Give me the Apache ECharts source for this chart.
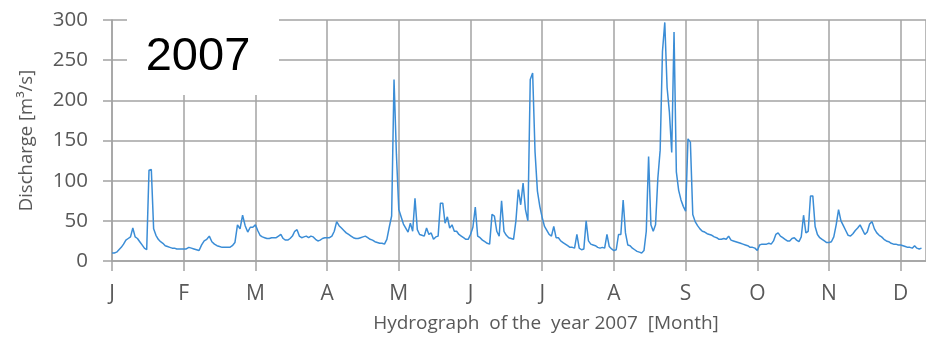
<!DOCTYPE html>
<html>
<head>
<meta charset="utf-8">
<title>Hydrograph 2007</title>
<script src="https://cdn.jsdelivr.net/npm/echarts@6/dist/echarts.min.js"></script>
<style>
  html, body { margin: 0; padding: 0; background: #ffffff; }
  #chart { width: 926px; height: 338px; }
</style>
</head>
<body>
<div id="chart"></div>
<script>
// Month tick labels and month lengths for 2007
const monthLabels = ['J', 'F', 'M', 'A', 'M', 'J', 'J', 'A', 'S', 'O', 'N', 'D'];
const daysInMonth = [31, 28, 31, 30, 31, 30, 31, 31, 30, 31, 30, 31];

// Daily discharge [m³/s], one array per month
const jan = [10, 10, 11, 14, 17, 21, 26, 28, 30, 41, 30, 28, 24, 20, 16, 14, 113, 114, 40, 32, 27, 24, 22, 19, 18, 17, 16, 16, 15, 15, 15];
const feb = [15, 15, 17, 16, 15, 14, 13, 20, 25, 27, 31, 24, 21, 19, 18, 17, 17, 17, 17, 19, 23, 45, 40, 57, 44, 36, 42, 42];
const mar = [45, 38, 32, 30, 29, 28, 28, 29, 29, 29, 31, 33, 28, 26, 26, 28, 31, 37, 39, 31, 29, 30, 31, 29, 31, 30, 27, 25, 26, 28, 29];
const apr = [29, 29, 31, 37, 49, 44, 41, 38, 35, 33, 31, 29, 28, 28, 29, 30, 31, 29, 27, 26, 24, 23, 22, 22, 21, 27, 42, 56, 226, 133];
const may = [64, 55, 46, 41, 36, 47, 37, 78, 39, 33, 32, 31, 41, 33, 35, 27, 30, 31, 72, 72, 47, 55, 41, 45, 37, 37, 33, 31, 29, 27, 27];
const jun = [33, 42, 67, 31, 29, 26, 24, 22, 21, 58, 56, 37, 31, 75, 37, 32, 29, 28, 27, 50, 89, 70, 97, 64, 50, 226, 234, 136, 87, 68];
const jul = [54, 43, 38, 33, 31, 43, 29, 29, 25, 23, 21, 19, 17, 17, 16, 33, 16, 14, 15, 50, 25, 21, 20, 19, 17, 16, 17, 16, 33, 18, 15];
const aug = [13, 14, 33, 33, 76, 35, 20, 19, 16, 14, 12, 11, 10, 13, 37, 130, 45, 37, 45, 103, 138, 261, 297, 216, 185, 135, 285, 111, 88, 76, 68];
const sep = [62, 152, 148, 58, 49, 44, 40, 37, 36, 34, 33, 32, 30, 29, 27, 27, 28, 27, 31, 26, 25, 24, 23, 22, 21, 20, 19, 17, 17, 16];
const oct = [13, 20, 21, 21, 21, 22, 21, 25, 33, 35, 31, 29, 27, 25, 25, 28, 29, 26, 24, 30, 57, 35, 37, 81, 81, 43, 33, 29, 27, 25, 23];
const nov = [23, 24, 30, 45, 64, 50, 44, 38, 32, 31, 34, 38, 41, 45, 39, 33, 36, 46, 49, 40, 35, 32, 30, 27, 25, 24, 22, 21, 21, 20];
const dec = [20, 19, 18, 17, 17, 16, 19, 16, 15, 16];

const monthlySeries = [jan, feb, mar, apr, may, jun, jul, aug, sep, oct, nov, dec];

// x position in month units: month index + fraction of the month elapsed
const points = [];
monthlySeries.forEach((days, m) => {
  days.forEach((q, d) => {
    points.push([m + d / daysInMonth[m], q]);
  });
});

// Plot spans from 1 January to about 11 December (71.7 px per month)
const plotLeft = 112;
const monthWidth = 71.7;
const xEnd = (926 - plotLeft) / monthWidth;

const gridColor = '#a3a3a3';
const labelColor = '#595959';
const font = 'Open Sans';

const chart = echarts.init(document.getElementById('chart'), null, { renderer: 'canvas' });
chart.setOption({
  animation: false,
  backgroundColor: '#ffffff',
  grid: { left: plotLeft, right: 0, top: 20, bottom: 74.5, containLabel: false },
  xAxis: {
    type: 'value',
    min: 0,
    max: xEnd,
    interval: 1,
    name: 'Hydrograph  of the  year 2007  [Month]',
    nameLocation: 'middle',
    nameGap: 53,
    nameTextStyle: { color: labelColor, fontFamily: font, fontSize: 19, padding: [0, 0, 0, 54] },
    axisLine: { show: true, lineStyle: { color: gridColor, width: 1.5 } },
    axisTick: { show: true, length: 10, lineStyle: { color: gridColor, width: 1.5 } },
    axisLabel: {
      margin: 23,
      color: labelColor,
      fontFamily: font,
      fontSize: 21,
      showMaxLabel: false,
      formatter: v => (Number.isInteger(v) ? monthLabels[v] : '')
    },
    splitLine: { show: true, lineStyle: { color: gridColor, width: 1.5 } }
  },
  yAxis: {
    type: 'value',
    min: 0,
    max: 300,
    interval: 50,
    name: 'Discharge [m³/s]',
    nameLocation: 'middle',
    nameGap: 76,
    nameTextStyle: { color: labelColor, fontFamily: font, fontSize: 18.5 },
    axisLine: { show: true, lineStyle: { color: gridColor, width: 1.5 } },
    axisTick: { show: true, length: 9, lineStyle: { color: gridColor, width: 1.5 } },
    axisLabel: { margin: 24, color: labelColor, fontFamily: font, fontSize: 20.5 },
    splitLine: { show: true, lineStyle: { color: gridColor, width: 1.5 } }
  },
  series: [{
    type: 'line',
    data: points,
    showSymbol: false,
    sampling: null,
    lineStyle: { color: '#3b8dd6', width: 1.5 },
    z: 3
  }],
  graphic: [
    {
      // white panel behind the year caption
      type: 'rect',
      z: 100,
      zlevel: 1,
      shape: { x: 127, y: 0, width: 152, height: 95 },
      style: { fill: '#ffffff' }
    },
    {
      type: 'text',
      z: 101,
      zlevel: 1,
      x: 198,
      y: 57,
      style: {
        text: '2007',
        fill: '#000000',
        font: '47px "Liberation Sans", Arial, sans-serif',
        textAlign: 'center',
        textVerticalAlign: 'middle'
      }
    }
  ]
});
</script>
</body>
</html>
